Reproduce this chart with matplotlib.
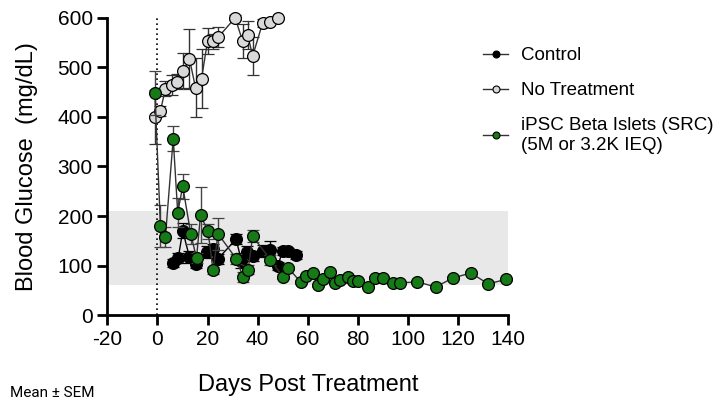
# blood glucose after treatment

import matplotlib.pyplot as plt
from matplotlib.lines import Line2D

plt.rcParams['font.family'] = ['Liberation Sans', 'DejaVu Sans']
plt.rcParams['axes.unicode_minus'] = False

# No Treatment
nt_days = [-1, 1.2, 3.2, 6, 8, 10.4, 12.8, 15.2, 17.6, 20, 22, 24.3, 31, 34, 36, 38, 42, 45, 48]
nt_glu = [400, 412, 457, 465, 471, 493, 517, 459, 477, 553, 553, 561, 600, 553, 566, 523, 590, 592, 600]
nt_sem = [55, 10, 15, 20, 15, 35, 60, 60, 60, 27, 15, 20, 5, 35, 28, 38, 8, 0, 0]

# Control
ct_days = [6.1, 8.3, 10.1, 12.8, 15.2, 19.8, 22, 24.2, 31.4, 33.5, 35.8, 38, 42, 45.1, 48, 50, 52.2, 55.1]
ct_glu = [105, 115, 170, 117, 104, 127, 134, 114, 153, 110, 127, 119, 129, 131, 100, 129, 129, 121]
ct_sem = [8, 10, 15, 12, 8, 12, 10, 10, 10, 15, 12, 10, 12, 18, 8, 8, 6, 8]

# iPSC Beta Islets
ip_days = [-1, 1.2, 3.2, 6.3, 8.1, 10.1, 13.3, 15.6, 17.2, 20.2, 22.2, 24.2, 31.4, 34.2, 36.2,
           38, 45.1, 50, 52.2, 57.1, 59.1, 62.2, 64, 66.2, 69, 70.8, 73, 76, 78, 80, 84, 87,
           90, 94, 96.7, 103.6, 111, 118, 125, 132, 139]
ip_glu = [448, 180, 158, 356, 207, 260, 164, 115, 202, 169, 90, 164, 114, 77, 92,
          159, 112, 77, 95, 67, 79, 85, 60, 72, 87, 65, 71, 76, 68, 69, 57, 75,
          75, 65, 65, 67, 57, 75, 85, 63, 72]
ip_sem = [45, 43, 20, 25, 30, 25, 20, 10, 57, 15, 8, 32, 10, 10, 10,
          12, 10, 5, 5, 4, 4, 4, 3, 3, 3, 3, 3, 3, 3, 3, 3, 3,
          3, 3, 3, 3, 3, 3, 3, 3, 3]

green = '#167a16'
labels = ['Control', 'No Treatment', 'iPSC Beta Islets (SRC)\n(5M or 3.2K IEQ)']

fig = plt.figure(figsize=(7.2, 4.05), dpi=100)
ax = fig.add_axes([0.149, 0.222, 0.557, 0.734])

# normal range band
ax.axhspan(60, 210, color='#e8e8e8', zorder=0, lw=0)
ax.axvline(0, color='black', ls=(0, (1, 2)), lw=1.2, zorder=1)

kw = dict(capsize=4, elinewidth=1, capthick=1, lw=1, ms=8.5, mec='black', mew=0.9, clip_on=False)
ax.errorbar(nt_days, nt_glu, yerr=nt_sem, fmt='-o', color='#333333', mfc='#d9d9d9',
            ecolor='#333333', zorder=3, **kw)
ax.errorbar(ct_days, ct_glu, yerr=ct_sem, fmt='-o', color='black', mfc='black',
            ecolor='black', zorder=4, **kw)
ax.errorbar(ip_days, ip_glu, yerr=ip_sem, fmt='-o', color='#333333', mfc=green,
            ecolor='#444444', zorder=5, **kw)

ax.set_xlim(-20, 140)
ax.set_ylim(0, 600)
ax.set_xticks(range(-20, 141, 20))
ax.set_yticks(range(0, 601, 100))
for s in ['top', 'right']:
    ax.spines[s].set_visible(False)
for s in ['left', 'bottom']:
    ax.spines[s].set_linewidth(2)
ax.tick_params(width=2, length=7, labelsize=15, direction='out')
ax.set_xlabel('Days Post Treatment', fontsize=17, labelpad=18)
ax.set_ylabel('Blood Glucose  (mg/dL)', fontsize=17, labelpad=14)

# legend with small markers, no error bars
handles = [Line2D([], [], color='#333333', lw=1, marker='o', ms=5, mfc=c, mec='black', mew=0.8)
           for c in ['black', '#d9d9d9', green]]
ax.legend(handles, labels, loc='upper left',
          bbox_to_anchor=(0.648, 0.925), bbox_transform=fig.transFigure,
          frameon=False, fontsize=13.5, handlelength=1.3,
          handletextpad=0.7, labelspacing=0.95)

fig.text(0.014, 0.02, 'Mean ± SEM', fontsize=11, family='Roboto')

fig.savefig('out.png', dpi=100)
